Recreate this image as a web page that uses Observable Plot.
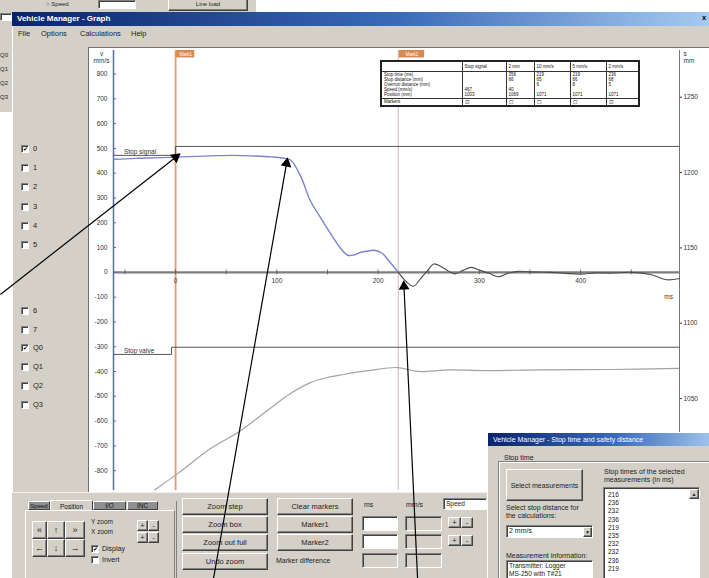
<!DOCTYPE html>
<html><head><meta charset="utf-8">
<script src="https://cdn.jsdelivr.net/npm/d3@7"></script>
<script src="https://cdn.jsdelivr.net/npm/@observablehq/plot@0.6"></script>
<style>
html,body{margin:0;padding:0;}
body{width:709px;height:578px;position:relative;overflow:hidden;background:#fff;font-family:"Liberation Sans",Arial,sans-serif;color:#111;}
.abs{position:absolute;}
.gray{background:#d4d0c8;}
.btn{position:absolute;box-sizing:border-box;background:#d4d0c8;border:1px solid;border-color:#fff #404040 #404040 #fff;box-shadow:inset -1px -1px 0 #808080;font-size:7.5px;display:flex;align-items:center;justify-content:center;white-space:nowrap;color:#222;}
.inp{position:absolute;box-sizing:border-box;background:#fff;border:1px solid;border-color:#808080 #fff #fff #808080;box-shadow:inset 1px 1px 0 #404040;font-size:7px;padding:1px 0 0 2px;white-space:nowrap;line-height:8px;color:#222;}
.inp.dis{background:#d4d0c8;}
.lbl{position:absolute;font-size:7.5px;white-space:nowrap;line-height:1;color:#222;}
.cb{position:absolute;width:8px;height:8px;box-sizing:border-box;background:#fff;border:1px solid;border-color:#808080 #fff #fff #808080;box-shadow:inset 1px 1px 0 #404040;font-size:6px;line-height:6px;text-align:center;color:#000;}
.title{position:absolute;height:14px;background:linear-gradient(90deg,#0a246a,#3a6ab8 55%,#a6caf0);color:#fff;font-size:8px;font-weight:bold;line-height:14px;padding-left:5px;box-sizing:border-box;white-space:nowrap;}
.tab{position:absolute;box-sizing:border-box;font-size:6.5px;display:flex;align-items:center;justify-content:center;border:1px solid;border-color:#fff #404040 #404040 #fff;white-space:nowrap;overflow:hidden;}
#tbl{position:absolute;left:380px;top:60px;width:260px;border-collapse:collapse;border:2px solid #222;font-size:4.5px;line-height:5.1px;background:#fff;table-layout:fixed;z-index:3;color:#111;}
#tbl td{border:1px solid #333;padding:0 2px;vertical-align:top;white-space:nowrap;overflow:hidden;}
</style></head><body>
<script>
// ---------------- chart data ----------------
const speedT = [-61.3,-40,-20,0,20,40,57,75,95,108,114,124,133,143,153,163,170,176,183,190,196,204,212,220,228,235,242,249,255,262,270,276,284,292,301,311,319,328,338,350,371,385,400,415,430,450,470,485,497.7];
const speedV = [456,460,462,465,468,471,472,470,466,460,452,383,290,222,157,97,69,70,81,86,89,77,40,0,-38,-56,-25,8,34,24,4,-6,8,20,8,-6,-18,-4,4,2,0,-4,-7,-2,-3,0,-10,-30,-25];
const distT  = [-30,-21.7,2,34.6,64.2,100.8,115,133.4,150,166,190,219,239,270,304,360,430,497.7];
const distMM = [985,988.9,1000.2,1016.8,1028.7,1047.3,1054,1060.6,1064,1066,1068.5,1070.6,1068,1069,1068.6,1069,1069.3,1070];
const signalT = [-61.3,0,0,497.7];
const signalV = [472,472,508,508];
const valveT  = [-61.3,-4,-4,497.7];
const valveV  = [-331,-331,-302,-302];
const channelNames = ["Stop signal","Stop valve"];
const markerT = [0,220];
const markerNames = ["Mark1","Mark2"];
const leftTicks  = [800,700,600,500,400,300,200,100,0,-100,-200,-300,-400,-500,-600,-700,-800];
const rightTicks = [1250,1200,1150,1100,1050];
const xTicks = [0,100,200,300,400];
const xMinor = [-50,0,50,100,150,200,250,300,350,400,450];
const xDomain = [-61.3,497.7];
const yDomain = [-880,895];
const mmDomain = [989,1281];
// annotation arrows (tail -> head, data units)
const annTailT = [-173,37.5,239];
const annTailV = [-89,-1234,-1234];
const annHeadT = [5,110.7,225.3];
const annHeadV = [480,464,-32];
// table
const tableCols = ["Stop signal","2 mm","10 mm/s","5 mm/s","2 mm/s"];
const tableRowLabels = ["Stop time (ms)","Stop distance (mm)","Overrun distance (mm)","Speed (mm/s)","Position (mm)"];
const rowStopTime = ["","356","219","219","236"];
const rowStopDist = ["","66","65","66","68"];
const rowOverrun  = ["","","6","8","5"];
const rowSpeed    = ["467","40","","",""];
const rowPosition = ["1003","1069","1071","1071","1071"];
const rowMarkers  = [true,false,false,false,true];
// UI lists
const channelsA = ["0","1","2","3","4","5"];
const channelsB = ["6","7","Q0","Q1","Q2","Q3"];
const checkedChannels = ["0","Q0"];
const stopTimesList = ["216","236","232","236","219","235","232","232","236","219"];
</script>

<!-- background window -->
<div class="abs gray" style="left:0;top:0;width:256px;height:12px;"></div>
<div class="lbl" style="left:46px;top:1px;font-size:6px;">&#9675; Speed</div>
<div class="inp" style="left:98px;top:0;width:38px;height:9px;"></div>
<div class="btn" style="left:168px;top:-3px;width:80px;height:14px;font-size:6px;">Line load</div>
<div class="abs gray" style="left:0;top:12px;width:12px;height:100px;"></div>
<div class="inp" style="left:0;top:13px;width:12px;height:8px;"></div>
<div class="lbl" style="left:0;top:52px;font-size:6px;">Q0</div>
<div class="lbl" style="left:0;top:66px;font-size:6px;">Q1</div>
<div class="lbl" style="left:0;top:80px;font-size:6px;">Q2</div>
<div class="lbl" style="left:0;top:94px;font-size:6px;">Q3</div>

<!-- main window -->
<div class="abs gray" style="left:12px;top:12px;width:697px;height:566px;border-left:1px solid #fff;"></div>
<div class="title" style="left:12px;top:12px;width:697px;">Vehicle Manager - Graph</div>
<div class="lbl" style="left:702px;top:14px;color:#000;font-weight:bold;">x</div>
<div class="lbl" style="left:18px;top:30px;">File</div>
<div class="lbl" style="left:41px;top:30px;">Options</div>
<div class="lbl" style="left:80px;top:30px;">Calculations</div>
<div class="lbl" style="left:131px;top:30px;">Help</div>
<div id="leftpanel"></div>
<div class="abs" style="left:88px;top:47px;width:621px;height:445px;background:#fff;border-left:1px solid #707070;border-top:1px solid #707070;box-sizing:border-box;"></div>
<div id="chart" class="abs" style="left:88px;top:48px;z-index:2;"></div>
<table id="tbl"></table>

<!-- bottom control panel -->
<div id="panel" class="abs gray" style="left:12px;top:492px;width:480px;height:86px;z-index:4;border-top:1px solid #f0f0f0;">
</div>
<!-- dialog -->
<div id="dlg" class="abs gray" style="left:487px;top:432px;width:230px;height:150px;z-index:5;border-left:1px solid #fff;border-top:1px solid #fff;"></div>
<div id="overlay" class="abs" style="left:0;top:0;z-index:10;pointer-events:none;"></div>

<script>
// ---------- left channel panel ----------
const lp = document.getElementById("leftpanel");
function addCb(parent, x, y, text, checked, z) {
  const b = document.createElement("div"); b.className = "cb";
  b.style.left = x + "px"; b.style.top = (y - 4) + "px"; if (z) b.style.zIndex = z;
  b.innerHTML = checked ? "&#10004;" : "";
  parent.appendChild(b);
  const l = document.createElement("div"); l.className = "lbl";
  l.style.left = (x + 12) + "px"; l.style.top = (y - 4) + "px"; if (z) l.style.zIndex = z;
  l.textContent = text; parent.appendChild(l);
}
channelsA.forEach((c, i) => addCb(lp, 21, 149 + i * 19.2, c, checkedChannels.includes(c)));
channelsB.forEach((c, i) => addCb(lp, 21, 311 + i * 18.7, c, checkedChannels.includes(c)));

// ---------- table ----------
const tbl = document.getElementById("tbl");
const colW = [81, 44, 28, 36, 36, 33];
let html = "<colgroup>" + colW.map(w => `<col style="width:${w}px">`).join("") + "</colgroup>";
html += `<tr style="height:10px"><td></td>${tableCols.map(c => `<td style="padding-top:2px">${c}</td>`).join("")}</tr>`;
const rows = [rowStopTime, rowStopDist, rowOverrun, rowSpeed, rowPosition];
html += `<tr style="height:27px"><td style="padding-top:0.5px">${tableRowLabels.join("<br>")}</td>` +
  tableCols.map((c, j) => `<td style="padding-top:0.5px">${rows.map(r => r[j] || "&nbsp;").join("<br>")}</td>`).join("") + "</tr>";
html += `<tr style="height:7px"><td>Markers</td>${rowMarkers.map(m => `<td style="padding-top:1px">${m ? "&#9745;" : "&#9744;"}</td>`).join("")}</tr>`;
tbl.innerHTML = html;

// ---------- scales helpers ----------
const toLeft = mm => yDomain[0] + (mm - mmDomain[0]) * (yDomain[1] - yDomain[0]) / (mmDomain[1] - mmDomain[0]);
const toMM = v => mmDomain[0] + (v - yDomain[0]) * (mmDomain[1] - mmDomain[0]) / (yDomain[1] - yDomain[0]);
const zip = (a, b) => a.map((t, i) => ({t, v: b[i]}));
const speed = zip(speedT, speedV);
const speedA = speed.filter(d => d.t <= markerT[1]);
const speedB = speed.filter(d => d.t >= markerT[1]);
const dist = zip(distT, distMM.map(toLeft));
const signal = zip(signalT, signalV);
const valve = zip(valveT, valveV);
const font = "'Liberation Sans', Arial, sans-serif";

const chart = Plot.plot({
  width: 621, height: 442,
  marginLeft: 25, marginRight: 30, marginTop: 2, marginBottom: 0,
  x: {domain: xDomain, axis: null, label: null},
  y: {domain: yDomain, axis: null, label: null},
  style: {background: "transparent", fontFamily: font, fontSize: "6.5px", color: "#333", overflow: "visible"},
  marks: [
    Plot.ruleX([markerT[1]], {stroke: "#d8c8c6", strokeWidth: 1.3}),
    Plot.ruleX([markerT[0]], {stroke: "#e39b6f", strokeWidth: 1.8}),
    Plot.rect(markerT, {x1: d => d + 1, x2: (d, i) => d + (i ? 26 : 19), y1: yDomain[1], y2: yDomain[1] - 30, fill: "#d98a50"}),
    Plot.text(markerT, {x: (d, i) => d + (i ? 13.5 : 10), y: yDomain[1] - 15, text: (d, i) => markerNames[i], fill: "#fff", fontSize: 4.5}),
    // zero axis & x ticks
    Plot.ruleY([0], {stroke: "#7d7d7d", strokeWidth: 2.2}),
    Plot.ruleX(xMinor, {x: d => d, y1: -10, y2: 10, stroke: "#555", strokeWidth: 0.8}),
    Plot.text(xTicks, {x: d => d, y: 0, dy: 9, text: d => `${d}`}),
    Plot.text(["ms"], {x: 487, y: 0, dy: 25}),
    // left axis
    Plot.ruleX([xDomain[0]], {stroke: "#5566cc", strokeWidth: 1.5}),
    Plot.axisY(leftTicks, {anchor: "left", label: null, tickSize: -3, tickPadding: 9, tickFormat: d => `${d}`, stroke: "#5566cc"}),
    Plot.text(["v\nmm/s"], {frameAnchor: "top-left", dx: -12, dy: 1, textAnchor: "middle", lineAnchor: "top", lineHeight: 1.05}),
    // right axis
    Plot.ruleX([xDomain[1]], {stroke: "#777", strokeWidth: 1}),
    Plot.axisY(rightTicks.map(toLeft), {anchor: "right", label: null, tickSize: 2, tickPadding: 2, tickFormat: d => `${Math.round(toMM(d))}`}),
    Plot.text(["s\nmm"], {frameAnchor: "top-right", dx: 4, dy: 1, textAnchor: "start", lineAnchor: "top", lineHeight: 1.05}),
    // digital channels
    Plot.line(signal, {x: "t", y: "v", stroke: "#555", strokeWidth: 1}),
    Plot.line(valve, {x: "t", y: "v", stroke: "#555", strokeWidth: 1}),
    Plot.text([channelNames[0]], {x: -51, y: signalV[0], dy: -1, textAnchor: "start", lineAnchor: "bottom"}),
    Plot.text([channelNames[1]], {x: -51, y: valveV[0], dy: -1, textAnchor: "start", lineAnchor: "bottom"}),
    // distance (right axis)
    Plot.line(dist, {x: "t", y: "v", stroke: "#a3a3a3", strokeWidth: 1.2, curve: "catmull-rom", clip: true}),
    // speed
    Plot.line(speedA, {x: "t", y: "v", stroke: "#7b84cc", strokeWidth: 1.4, curve: "catmull-rom"}),
    Plot.line(speedB, {x: "t", y: "v", stroke: "#4d4d4d", strokeWidth: 1.1, curve: "catmull-rom"})
  ]
});
document.getElementById("chart").appendChild(chart);

// ---------- annotation arrows overlay ----------
const oL = 113, oR = 30, oT = 50, oB = 88;
const kx = (709 - oL - oR) / (xDomain[1] - xDomain[0]);
const ky = (578 - oT - oB) / (yDomain[1] - yDomain[0]);
const tipDist = 6.2;
const ann = annTailT.map((t, i) => {
  const sx = (annHeadT[i] - t) * kx, sy = -(annHeadV[i] - annTailV[i]) * ky;
  const len = Math.hypot(sx, sy), ux = sx / len, uy = sy / len;
  return {x1: t, y1: annTailV[i], x2: annHeadT[i], y2: annHeadV[i],
    cx: annHeadT[i] - ux * tipDist / kx, cy: annHeadV[i] + uy * tipDist / ky,
    rot: Math.atan2(ux, -uy) * 180 / Math.PI};
});
const over = Plot.plot({
  width: 709, height: 578, marginLeft: oL, marginRight: oR, marginTop: oT, marginBottom: oB,
  x: {domain: xDomain, axis: null}, y: {domain: yDomain, axis: null},
  style: {background: "transparent", overflow: "visible"},
  marks: [
    Plot.link(ann, {x1: "x1", y1: "y1", x2: "cx", y2: "cy", stroke: "#000", strokeWidth: 1.2}),
    Plot.dot(ann, {x: "cx", y: "cy", symbol: "triangle", r: 4, fill: "#000", stroke: "none", rotate: "rot"})
  ]
});
document.getElementById("overlay").appendChild(over);

// ---------- bottom panel ----------
const P = document.getElementById("panel");
const ox = 12, oy = 492;
function el(cls, x, y, w, h, text, style) {
  const d = document.createElement("div"); d.className = cls;
  d.style.left = (x - ox) + "px"; d.style.top = (y - oy) + "px";
  if (w != null) d.style.width = w + "px"; if (h != null) d.style.height = h + "px";
  if (text != null) d.innerHTML = text; if (style) d.setAttribute("style", d.getAttribute("style") + ";" + style);
  return d;
}
function add(parent, d) { parent.appendChild(d); return d; }
add(P, el("tab", 28, 500, 22, 9, "Speed", "background:#8f8f8f;font-size:6px"));
add(P, el("tab", 50, 499, 43, 11, "Position", "background:#d4d0c8;border-bottom:none"));
add(P, el("tab", 93, 500, 33, 9, "I/O", "background:#8f8f8f"));
add(P, el("tab", 127, 500, 31, 9, "INC", "background:#8f8f8f"));
add(P, el("abs", 25, 509, 150, 80, null, "border-left:1px solid #fff;border-top:1px solid #fff;border-right:1px solid #808080;box-sizing:border-box"));
add(P, el("abs", 176, 500, 1, 80, null, "background:#808080"));
const arrowsRow1 = ["&laquo;", "&#8593;", "&raquo;"], arrowsRow2 = ["&#8592;", "&#8595;", "&#8594;"];
const ax = [32, 47, 65], aw = [15, 18, 20];
arrowsRow1.forEach((a, i) => add(P, el("btn", ax[i], 520, aw[i], 18, a, "font-size:9px")));
arrowsRow2.forEach((a, i) => add(P, el("btn", ax[i], 538, aw[i], 18, a, "font-size:9px")));
add(P, el("lbl", 91, 518, null, null, "Y zoom", "font-size:6.5px"));
add(P, el("lbl", 91, 528, null, null, "X zoom", "font-size:6.5px"));
[519, 531].forEach(y => { add(P, el("btn", 137, y, 11, 11, "+", "")); add(P, el("btn", 148, y, 11, 11, "-", "")); });
add(P, el("cb", 91, 544, null, null, "&#10004;", ""));
add(P, el("lbl", 102, 544, null, null, "Display", "font-size:7px"));
add(P, el("cb", 91, 555, null, null, "", ""));
add(P, el("lbl", 102, 555, null, null, "Invert", "font-size:7px"));
const col1 = ["Zoom step", "Zoom box", "Zoom out full", "Undo zoom"];
const col2 = ["Clear markers", "Marker1", "Marker2"];
const rowY = [497, 515, 533, 552];
col1.forEach((t, i) => add(P, el("btn", 182, rowY[i], 86, 17, t)));
col2.forEach((t, i) => add(P, el("btn", 277, rowY[i], 76, 17, t)));
add(P, el("lbl", 276, 556, null, null, "Marker difference", "font-size:7px"));
add(P, el("lbl", 364, 500, null, null, "ms", "font-size:7px"));
add(P, el("lbl", 406, 500, null, null, "mm/s", "font-size:7px"));
add(P, el("inp", 443, 497, 44, 12, "Speed", "font-size:6.5px"));
[515, 533].forEach(y => add(P, el("inp", 362, y, 36, 15)));
add(P, el("inp dis", 362, 552, 36, 15));
[515, 533, 552].forEach(y => add(P, el("inp dis", 405, y, 37, 15)));
[516, 534].forEach(y => { add(P, el("btn", 448, y, 13, 11, "+")); add(P, el("btn", 461, y, 12, 11, "-")); });

// ---------- dialog ----------
const D = document.getElementById("dlg");
const dx0 = 487, dy0 = 432;
function del(cls, x, y, w, h, text, style) {
  const d = document.createElement("div"); d.className = cls;
  d.style.left = (x - dx0) + "px"; d.style.top = (y - dy0) + "px";
  if (w != null) d.style.width = w + "px"; if (h != null) d.style.height = h + "px";
  if (text != null) d.innerHTML = text; if (style) d.setAttribute("style", d.getAttribute("style") + ";" + style);
  D.appendChild(d); return d;
}
del("title", 487, 432, 230, 13, "Vehicle Manager - Stop time and safety distance", "font-size:7px;font-weight:normal;height:13px;line-height:13px");
del("lbl", 503, 453, null, null, "Stop time", "font-size:7px");
del("abs", 497, 460, 215, 125, null, "border:1px solid #808080;box-shadow:1px 1px 0 #fff inset");
del("btn", 505, 468, 77, 32, "Select measurements", "font-size:7px");
del("lbl", 603, 467, null, null, "Stop times of the selected<br>measurements (in ms)", "font-size:7px;line-height:8px");
del("inp", 602, 486, 97, 100, stopTimesList.join("<br>"), "font-size:6.5px;line-height:8.2px;padding:3px 0 0 4px");
del("btn", 688, 488, 10, 10, "&#9650;", "font-size:5px");
del("lbl", 505, 503, null, null, "Select stop distance for<br>the calculations:", "font-size:7px;line-height:8px");
del("inp", 505, 524, 87, 13, "2 mm/s", "font-size:7px");
del("btn", 582, 526, 9, 10, "&#9660;", "font-size:5px");
del("lbl", 505, 551, null, null, "Measurement information:", "font-size:7px");
del("inp", 505, 559, 87, 25, "Transmitter: Logger<br>MS-250 with T#21", "font-size:6.5px;line-height:8px");
</script>
</body></html>
